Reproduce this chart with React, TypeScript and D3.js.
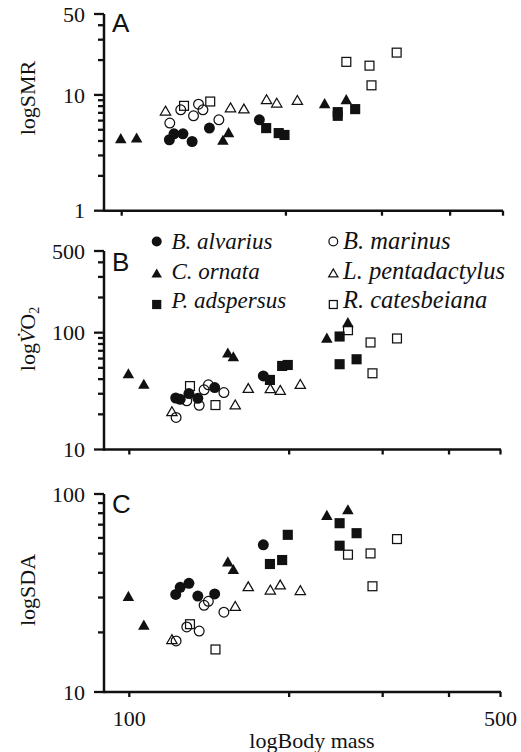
import React from 'react';
import * as d3 from 'd3';

// ---------- data ----------
const speciesNames = ['B. alvarius', 'B. marinus', 'C. ornata', 'L. pentadactylus', 'P. adspersus', 'R. catesbeiana'];
const speciesShapes = ['circle', 'circle', 'triangle', 'triangle', 'square', 'square'];
const speciesFilled = [true, false, true, false, true, false];

// body mass (g) per individual
const massBA = [122.3, 124.7, 129.5, 134.6, 144.8, 178.8];
const massBM = [122.5, 128.3, 135.4, 138.3, 140.9, 150.7];
const massCO = [99.6, 106.5, 153.3, 157.0, 235.5, 258.0];
const massLP = [120.3, 158.3, 167.5, 184.3, 192.4, 209.9];
const massPA = [184.0, 194.0, 198.8, 248.9, 248.9, 267.9];
const massRC = [130.1, 145.3, 258.1, 284.6, 287.0, 319.2];

// Panel A: SMR
const smrBA = [4.10, 4.61, 4.61, 3.96, 5.17, 6.09];
const smrBM = [5.71, 7.43, 6.60, 8.32, 7.43, 6.09];
const smrCO = [4.24, 4.29, 4.10, 4.77, 8.49, 9.19];
const smrLP = [7.32, 7.81, 7.63, 9.19, 8.58, 9.06];
const smrPA = [5.17, 4.68, 4.51, 7.1, 6.6, 7.54];
const smrRC = [8.05, 8.77, 19.3, 17.9, 12.1, 23.2];

// Panel B: VO2
const vo2BA = [27.6, 26.9, 30.1, 27.4, 33.9, 42.6];
const vo2BM = [18.8, 26.1, 23.9, 32.4, 35.8, 30.7];
const vo2CO = [44.9, 36.5, 67.6, 62.9, 90.6, 123.1];
const vo2LP = [21.3, 24.3, 33.6, 33.4, 32.4, 36.4];
const vo2PA = [39.4, 51.9, 52.9, 92.7, 53.7, 59.2];
const vo2RC = [34.9, 24.0, 105.0, 82.4, 44.9, 89.2];

// Panel C: SDA
const sdaBA = [31.1, 33.8, 35.4, 30.5, 31.3, 55.4];
const sdaBM = [18.1, 21.3, 20.3, 27.4, 28.7, 25.3];
const sdaCO = [30.6, 21.9, 45.7, 41.8, 78.4, 83.8];
const sdaLP = [18.5, 27.2, 34.2, 32.9, 34.9, 32.7];
const sdaPA = [44.3, 46.4, 62.2, 71.2, 54.8, 63.4];
const sdaRC = [22.0, 16.4, 49.4, 50.1, 34.2, 59.2];

const massBySpecies = [massBA, massBM, massCO, massLP, massPA, massRC];
const xTickValues = [100, 200, 300, 400, 500];
const xTickLabels = ['100', '', '', '', '500'];

// ---------- layout ----------
const W = 521;
const H = 752;
const SERIF = "'Liberation Serif','Times New Roman',Times,serif";
const SANS = "'Liberation Sans',Arial,Helvetica,sans-serif";
const INK = '#111';
const AXIS_X = 104;

const panels = [
  {
    letter: 'A', letterY: 32,
    yDomain: [1, 50], yTop: 14, yBottom: 210.7, majors: [1, 10, 50],
    xRange: [121.7, 503], xEnd: 503, showXLabels: false,
    values: [smrBA, smrBM, smrCO, smrLP, smrPA, smrRC],
    yLabel: 'SMR', yLabelY: 98,
  },
  {
    letter: 'B', letterY: 271,
    yDomain: [10, 500], yTop: 251, yBottom: 449.5, majors: [10, 100, 500],
    xRange: [129.3, 500.5], xEnd: 501, showXLabels: false,
    values: [vo2BA, vo2BM, vo2CO, vo2LP, vo2PA, vo2RC],
    yLabel: 'VO2', yLabelY: 339,
  },
  {
    letter: 'C', letterY: 513,
    yDomain: [10, 100], yTop: 494, yBottom: 692, majors: [10, 100],
    xRange: [129.3, 500.5], xEnd: 501, showXLabels: true,
    values: [sdaBA, sdaBM, sdaCO, sdaLP, sdaPA, sdaRC],
    yLabel: 'SDA', yLabelY: 590,
  },
];

function Marker({ shape, filled, x, y, s }: { shape: string; filled: boolean; x: number; y: number; s: number }) {
  const sw = filled ? 0 : 1.25;
  const fill = filled ? INK : 'none';
  const stroke = filled ? 'none' : INK;
  if (shape === 'circle') {
    return <circle cx={x} cy={y} r={s / 2 - sw / 2} fill={fill} stroke={stroke} strokeWidth={sw} />;
  }
  if (shape === 'square') {
    const a = s * 0.92 - sw;
    return <rect x={x - a / 2} y={y - a / 2} width={a} height={a} fill={fill} stroke={stroke} strokeWidth={sw} />;
  }
  const w = s * 1.05 - sw;
  const h = s * 0.92 - sw;
  const p = d3.path();
  p.moveTo(x, y - h / 2);
  p.lineTo(x + w / 2, y + h / 2);
  p.lineTo(x - w / 2, y + h / 2);
  p.closePath();
  return <path d={p.toString()} fill={fill} stroke={stroke} strokeWidth={sw} strokeLinejoin="miter" />;
}

function Panel({ cfg }: { cfg: any }) {
  const y = d3.scaleLog().domain(cfg.yDomain).range([cfg.yBottom, cfg.yTop]);
  const x = d3.scaleLog().domain([100, 500]).range(cfg.xRange);
  const yTicks = y.ticks().filter((t: number) => t >= cfg.yDomain[0] && t <= cfg.yDomain[1]);
  const drawOrder = [1, 3, 5, 0, 2, 4];
  return (
    <g>
      {/* y axis */}
      <line x1={AXIS_X} x2={AXIS_X} y1={y(cfg.yDomain[1])} y2={y(cfg.yDomain[0]) + 1.2} stroke={INK} strokeWidth={2.5} />
      {yTicks.map((t: number) => {
        const major = cfg.majors.includes(t);
        return (
          <line key={'yt' + t} x1={AXIS_X - (major ? 10 : 6)} x2={AXIS_X} y1={y(t)} y2={y(t)} stroke={INK} strokeWidth={2.3} />
        );
      })}
      {cfg.majors.map((t: number) => (
        <text key={'yl' + t} x={85} y={y(t)} dy="0.35em" textAnchor="end" fontFamily={SERIF} fontSize={22} fill={INK}>
          {String(t)}
        </text>
      ))}
      {/* x axis */}
      <line x1={AXIS_X} x2={cfg.xEnd} y1={y(cfg.yDomain[0])} y2={y(cfg.yDomain[0])} stroke={INK} strokeWidth={2.5} />
      {xTickValues.map((t, i) => (
        <g key={'xt' + t}>
          <line x1={x(t)} x2={x(t)} y1={y(cfg.yDomain[0])} y2={y(cfg.yDomain[0]) + 5} stroke={INK} strokeWidth={2.3} />
          {cfg.showXLabels && xTickLabels[i] ? (
            <text x={x(t)} y={y(cfg.yDomain[0]) + 34} textAnchor="middle" fontFamily={SERIF} fontSize={22} fill={INK}>
              {xTickLabels[i]}
            </text>
          ) : null}
        </g>
      ))}
      {/* panel letter */}
      <text x={112} y={cfg.letterY} fontFamily={SANS} fontSize={26} fill={INK}>{cfg.letter}</text>
      {/* y label */}
      <g transform={`translate(35,${cfg.yLabelY}) rotate(-90)`}>
        {cfg.yLabel === 'VO2' ? (
          <text textAnchor="middle" fontFamily={SERIF} fontSize={22} fill={INK}>
            log<tspan fontStyle="italic">{'V\u0307'}</tspan>O<tspan fontSize={14} dy={4}>2</tspan>
          </text>
        ) : (
          <text textAnchor="middle" fontFamily={SERIF} fontSize={22} fill={INK}>{'log' + cfg.yLabel}</text>
        )}
      </g>
      {/* data */}
      {drawOrder.map((si) => (
        <g key={'s' + si}>
          {massBySpecies[si].map((m, j) => (
            <Marker key={j} shape={speciesShapes[si]} filled={speciesFilled[si]} x={x(m)} y={y(cfg.values[si][j])} s={11} />
          ))}
        </g>
      ))}
    </g>
  );
}

function Legend() {
  const rowsMarkerY = [241.5, 273, 304.5];
  const rowsTextY = [248.5, 278.5, 308];
  const colMarkerX = [156.7, 333.3];
  const colTextX = [171.5, 343];
  const colFont = [23, 24.5];
  // left column: filled species, right column: open species
  const leftIdx = [0, 2, 4];
  const rightIdx = [1, 3, 5];
  const cols = [leftIdx, rightIdx];
  return (
    <g>
      {cols.map((col, c) =>
        col.map((si, r) => (
          <g key={`lg${c}${r}`}>
            <Marker shape={speciesShapes[si]} filled={speciesFilled[si]} x={colMarkerX[c]} y={rowsMarkerY[r]} s={10} />
            <text x={colTextX[c]} y={rowsTextY[r]} fontFamily={SERIF} fontStyle="italic" fontSize={colFont[c]} fill={INK}>
              {speciesNames[si]}
            </text>
          </g>
        ))
      )}
    </g>
  );
}

export default function App() {
  return (
    <svg width={W} height={H} viewBox={`0 0 ${W} ${H}`} style={{ position: 'absolute', left: 0, top: 0, display: 'block', background: '#fff' }}>
      <rect x={0} y={0} width={W} height={H} fill="#fff" />
      {panels.map((p) => (
        <Panel key={p.letter} cfg={p} />
      ))}
      <Legend />
      <text x={312} y={748} textAnchor="middle" fontFamily={SERIF} fontSize={22} fill={INK}>logBody mass</text>
    </svg>
  );
}
